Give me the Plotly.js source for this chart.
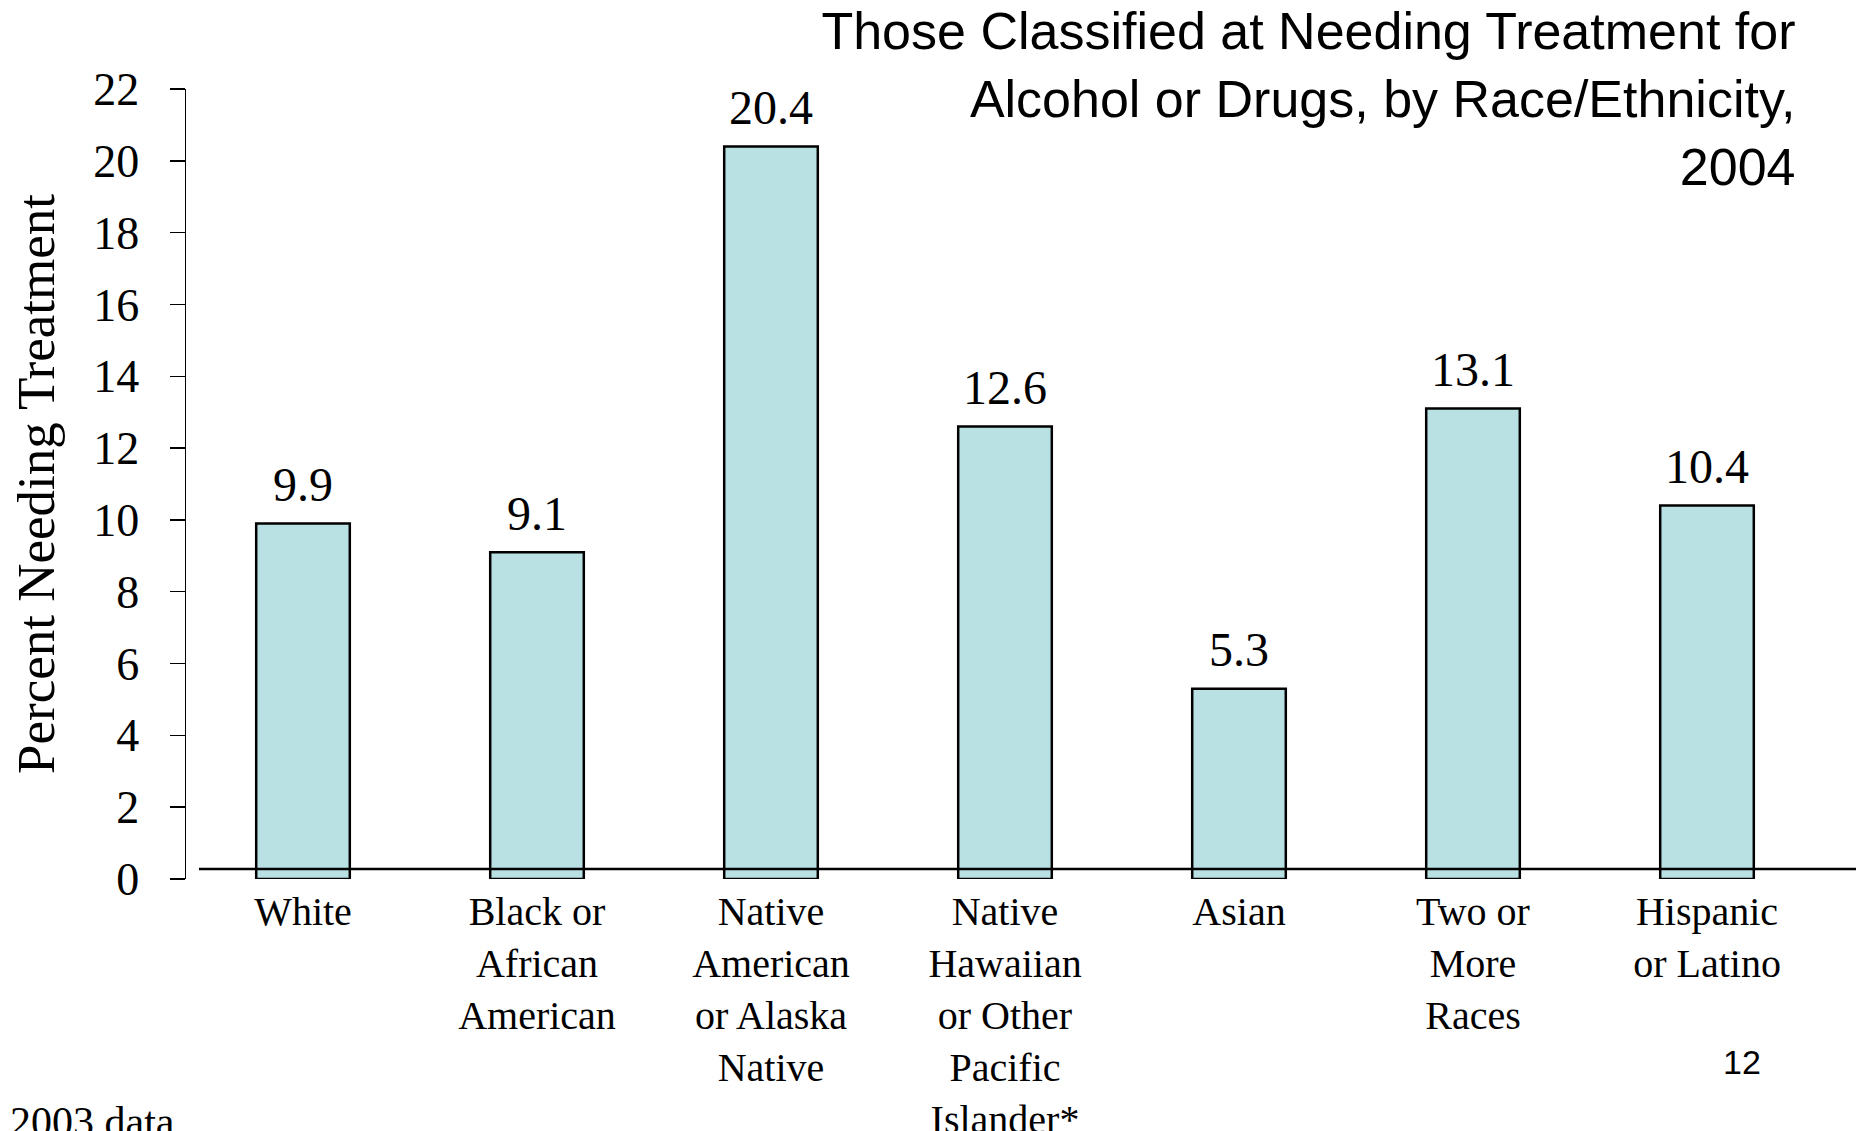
<!DOCTYPE html>
<html>
<head>
<meta charset="utf-8">
<script src="https://cdn.plot.ly/plotly-3.0.1.min.js"></script>
<style>html,body{margin:0;padding:0;background:#fff;}#chart{width:1856px;height:1131px;}</style>
</head>
<body>
<div id="chart"></div>
<script>
const categories = [
  "White",
  "Black or<br>African<br>American",
  "Native<br>American<br>or Alaska<br>Native",
  "Native<br>Hawaiian<br>or Other<br>Pacific<br>Islander*",
  "Asian",
  "Two or<br>More<br>Races",
  "Hispanic<br>or Latino"
];
const values = [9.9, 9.1, 20.4, 12.6, 5.3, 13.1, 10.4];
const valueLabels = ["9.9", "9.1", "20.4", "12.6", "5.3", "13.1", "10.4"];
const yTickValues = [0, 2, 4, 6, 8, 10, 12, 14, 16, 18, 20, 22];
const titleText = "Those Classified at Needing Treatment for<br>Alcohol or Drugs, by Race/Ethnicity,<br>2004";
const yTitleText = "Percent Needing Treatment";
const footnoteText = "2003 data";
const slideNumber = "12";

const serif = "Liberation Serif, Times New Roman, serif";
const sans = "Liberation Sans, Arial, sans-serif";

const trace = {
  type: "bar",
  x: categories,
  y: values,
  width: 0.4,
  marker: {color: "#B9E0E3", line: {color: "#000", width: 2.5}},
  hoverinfo: "skip"
};

const annotations = categories.map((c, i) => ({
  x: c, y: values[i], xref: "x", yref: "y",
  text: valueLabels[i], showarrow: false,
  yanchor: "middle", yshift: 39,
  font: {family: serif, size: 48, color: "#000"}
}));
annotations.push({
  xref: "paper", yref: "paper", x: -0.1089, y: -0.308,
  xanchor: "left", yanchor: "middle", showarrow: false,
  text: footnoteText, font: {family: serif, size: 42, color: "#000"}
});
annotations.push({
  xref: "paper", yref: "paper", x: 0.9497, y: -0.2316,
  xanchor: "center", yanchor: "middle", showarrow: false,
  text: slideNumber, font: {family: sans, size: 34, color: "#000"}
});

const layout = {
  width: 1856, height: 1131,
  margin: {l: 186, r: 31.5, t: 89, b: 252, pad: 0},
  paper_bgcolor: "#fff", plot_bgcolor: "#fff",
  showlegend: false,
  title: {
    text: titleText,
    font: {family: sans, size: 52, color: "#000"},
    xref: "paper", x: 0.9826, xanchor: "right",
    yref: "container", y: 1 - 49.4 / 1131, yanchor: "middle",
    align: "right"
  },
  xaxis: {
    type: "category",
    range: [-0.5, 6.5],
    showline: false, showgrid: false, zeroline: false,
    ticks: "", ticklabelstandoff: 5,
    tickfont: {family: serif, size: 40, color: "#000"}
  },
  yaxis: {
    range: [0, 22],
    tickvals: yTickValues,
    showline: true, linecolor: "#000", linewidth: 1.5,
    showgrid: false, zeroline: false,
    ticks: "outside", ticklen: 15, tickcolor: "#000", tickwidth: 1.5,
    ticklabelstandoff: 21,
    tickfont: {family: serif, size: 46, color: "#000"},
    title: {text: yTitleText, font: {family: serif, size: 53, color: "#000"}, standoff: 21}
  },
  shapes: [{
    type: "line", xref: "paper", yref: "paper",
    x0: 0.0079, x1: 1.02, y0: 0.0127, y1: 0.0127,
    line: {color: "#000", width: 2.5}, layer: "above"
  }],
  annotations: annotations
};

Plotly.newPlot("chart", [trace], layout, {displayModeBar: false, staticPlot: true});
</script>
</body>
</html>
